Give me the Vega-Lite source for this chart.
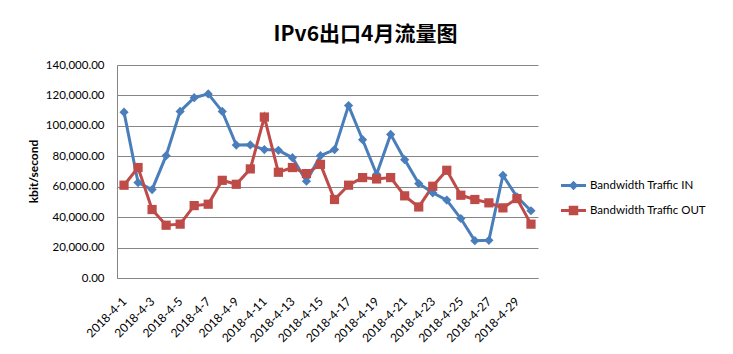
{
  "$schema": "https://vega.github.io/schema/vega-lite/v6.json",
  "autosize": {"type": "none"},
  "width": 421,
  "height": 213,
  "padding": {"left": 117, "top": 65, "right": 195, "bottom": 76},
  "background": "white",
  "title": {
    "text": "IPv6出口4月流量图",
    "font": "Noto Sans CJK SC",
    "fontSize": 21,
    "fontWeight": "bold",
    "color": "#000000",
    "anchor": "middle",
    "dx": 38,
    "offset": 14
  },
  "config": {"view": {"stroke": null}, "font": "Lato"},
  "data": {
    "values": [
      {"date": "2018-4-1", "series": "Bandwidth Traffic IN", "value": 109000},
      {"date": "2018-4-2", "series": "Bandwidth Traffic IN", "value": 62700},
      {"date": "2018-4-3", "series": "Bandwidth Traffic IN", "value": 58100},
      {"date": "2018-4-4", "series": "Bandwidth Traffic IN", "value": 80400},
      {"date": "2018-4-5", "series": "Bandwidth Traffic IN", "value": 109500},
      {"date": "2018-4-6", "series": "Bandwidth Traffic IN", "value": 118500},
      {"date": "2018-4-7", "series": "Bandwidth Traffic IN", "value": 121000},
      {"date": "2018-4-8", "series": "Bandwidth Traffic IN", "value": 109500},
      {"date": "2018-4-9", "series": "Bandwidth Traffic IN", "value": 87400},
      {"date": "2018-4-10", "series": "Bandwidth Traffic IN", "value": 87500},
      {"date": "2018-4-11", "series": "Bandwidth Traffic IN", "value": 84400},
      {"date": "2018-4-12", "series": "Bandwidth Traffic IN", "value": 83900},
      {"date": "2018-4-13", "series": "Bandwidth Traffic IN", "value": 79100},
      {"date": "2018-4-14", "series": "Bandwidth Traffic IN", "value": 63600},
      {"date": "2018-4-15", "series": "Bandwidth Traffic IN", "value": 80400},
      {"date": "2018-4-16", "series": "Bandwidth Traffic IN", "value": 84400},
      {"date": "2018-4-17", "series": "Bandwidth Traffic IN", "value": 113300},
      {"date": "2018-4-18", "series": "Bandwidth Traffic IN", "value": 90900},
      {"date": "2018-4-19", "series": "Bandwidth Traffic IN", "value": 68200},
      {"date": "2018-4-20", "series": "Bandwidth Traffic IN", "value": 94400},
      {"date": "2018-4-21", "series": "Bandwidth Traffic IN", "value": 77800},
      {"date": "2018-4-22", "series": "Bandwidth Traffic IN", "value": 62100},
      {"date": "2018-4-23", "series": "Bandwidth Traffic IN", "value": 56000},
      {"date": "2018-4-24", "series": "Bandwidth Traffic IN", "value": 51200},
      {"date": "2018-4-25", "series": "Bandwidth Traffic IN", "value": 39100},
      {"date": "2018-4-26", "series": "Bandwidth Traffic IN", "value": 24500},
      {"date": "2018-4-27", "series": "Bandwidth Traffic IN", "value": 24800},
      {"date": "2018-4-28", "series": "Bandwidth Traffic IN", "value": 67500},
      {"date": "2018-4-29", "series": "Bandwidth Traffic IN", "value": 53300},
      {"date": "2018-4-30", "series": "Bandwidth Traffic IN", "value": 44200},
      {"date": "2018-4-1", "series": "Bandwidth Traffic OUT", "value": 61000},
      {"date": "2018-4-2", "series": "Bandwidth Traffic OUT", "value": 72600},
      {"date": "2018-4-3", "series": "Bandwidth Traffic OUT", "value": 45000},
      {"date": "2018-4-4", "series": "Bandwidth Traffic OUT", "value": 34700},
      {"date": "2018-4-5", "series": "Bandwidth Traffic OUT", "value": 35400},
      {"date": "2018-4-6", "series": "Bandwidth Traffic OUT", "value": 47600},
      {"date": "2018-4-7", "series": "Bandwidth Traffic OUT", "value": 48500},
      {"date": "2018-4-8", "series": "Bandwidth Traffic OUT", "value": 64200},
      {"date": "2018-4-9", "series": "Bandwidth Traffic OUT", "value": 61600},
      {"date": "2018-4-10", "series": "Bandwidth Traffic OUT", "value": 71700},
      {"date": "2018-4-11", "series": "Bandwidth Traffic OUT", "value": 105800},
      {"date": "2018-4-12", "series": "Bandwidth Traffic OUT", "value": 69500},
      {"date": "2018-4-13", "series": "Bandwidth Traffic OUT", "value": 72600},
      {"date": "2018-4-14", "series": "Bandwidth Traffic OUT", "value": 68600},
      {"date": "2018-4-15", "series": "Bandwidth Traffic OUT", "value": 74700},
      {"date": "2018-4-16", "series": "Bandwidth Traffic OUT", "value": 51600},
      {"date": "2018-4-17", "series": "Bandwidth Traffic OUT", "value": 61000},
      {"date": "2018-4-18", "series": "Bandwidth Traffic OUT", "value": 66000},
      {"date": "2018-4-19", "series": "Bandwidth Traffic OUT", "value": 65100},
      {"date": "2018-4-20", "series": "Bandwidth Traffic OUT", "value": 66000},
      {"date": "2018-4-21", "series": "Bandwidth Traffic OUT", "value": 54000},
      {"date": "2018-4-22", "series": "Bandwidth Traffic OUT", "value": 46700},
      {"date": "2018-4-23", "series": "Bandwidth Traffic OUT", "value": 60300},
      {"date": "2018-4-24", "series": "Bandwidth Traffic OUT", "value": 70800},
      {"date": "2018-4-25", "series": "Bandwidth Traffic OUT", "value": 54400},
      {"date": "2018-4-26", "series": "Bandwidth Traffic OUT", "value": 51600},
      {"date": "2018-4-27", "series": "Bandwidth Traffic OUT", "value": 49400},
      {"date": "2018-4-28", "series": "Bandwidth Traffic OUT", "value": 46100},
      {"date": "2018-4-29", "series": "Bandwidth Traffic OUT", "value": 52200},
      {"date": "2018-4-30", "series": "Bandwidth Traffic OUT", "value": 35400}
    ]
  },
  "encoding": {
    "x": {
      "field": "date",
      "type": "ordinal",
      "sort": null,
      "scale": {"type": "point", "padding": 0.5},
      "axis": {
        "title": null,
        "values": ["2018-4-1", "2018-4-3", "2018-4-5", "2018-4-7", "2018-4-9", "2018-4-11", "2018-4-13", "2018-4-15", "2018-4-17", "2018-4-19", "2018-4-21", "2018-4-23", "2018-4-25", "2018-4-27", "2018-4-29"],
        "labelAngle": -45,
        "labelAlign": "right",
        "labelBaseline": "middle",
        "labelPadding": 21,
        "labelFont": "Lato",
        "labelFontSize": 12,
        "labelColor": "#000000",
        "ticks": false,
        "domainColor": "#868686",
        "domainWidth": 1,
        "grid": false
      }
    },
    "y": {
      "field": "value",
      "type": "quantitative",
      "scale": {"domain": [0, 140000], "nice": false},
      "axis": {
        "title": "kbit/second",
        "titleFont": "Lato",
        "titleFontSize": 12,
        "titleFontWeight": "bold",
        "titleColor": "#000000",
        "titleAngle": -90,
        "titleAlign": "center",
        "titleBaseline": "middle",
        "titleX": -84,
        "titleY": 106,
        "format": ",.2f",
        "values": [0, 20000, 40000, 60000, 80000, 100000, 120000, 140000],
        "labelFont": "Lato",
        "labelFontSize": 11.5,
        "labelColor": "#000000",
        "labelPadding": 13,
        "ticks": false,
        "domainColor": "#868686",
        "domainWidth": 1,
        "grid": true,
        "gridColor": "#868686",
        "gridWidth": 1
      }
    },
    "color": {
      "field": "series",
      "type": "nominal",
      "scale": {
        "domain": ["Bandwidth Traffic IN", "Bandwidth Traffic OUT"],
        "range": ["#4A7EBB", "#BE4B48"]
      },
      "legend": {
        "title": null,
        "orient": "none",
        "legendX": 444,
        "legendY": 108,
        "symbolSize": 625,
        "rowPadding": 7,
        "labelOffset": 4,
        "labelFont": "Lato",
        "labelFontSize": 11.5,
        "labelColor": "#000000",
        "encode": {
          "symbols": {
            "update": {
              "shape": {"signal": "datum.value === 'Bandwidth Traffic IN' ? 'M-1,-0.12L1,-0.12L1,0.12L-1,0.12Z M0,-0.38L0.38,0L0,0.38L-0.38,0Z' : 'M-1,-0.12L1,-0.12L1,0.12L-1,0.12Z M-0.38,-0.38L0.38,-0.38L0.38,0.38L-0.38,0.38Z'"},
              "fill": {"signal": "scale('color', datum.value)"},
              "fillOpacity": {"value": 1},
              "strokeWidth": {"value": 0}
            }
          }
        }
      }
    }
  },
  "layer": [
    {"mark": {"type": "line", "strokeWidth": 3}},
    {
      "transform": [{"filter": "datum.series === 'Bandwidth Traffic IN'"}],
      "mark": {"type": "point", "filled": true, "opacity": 1, "size": 85, "shape": "diamond"}
    },
    {
      "transform": [{"filter": "datum.series === 'Bandwidth Traffic OUT'"}],
      "mark": {"type": "point", "filled": true, "opacity": 1, "size": 85, "shape": "square"}
    }
  ]
}
